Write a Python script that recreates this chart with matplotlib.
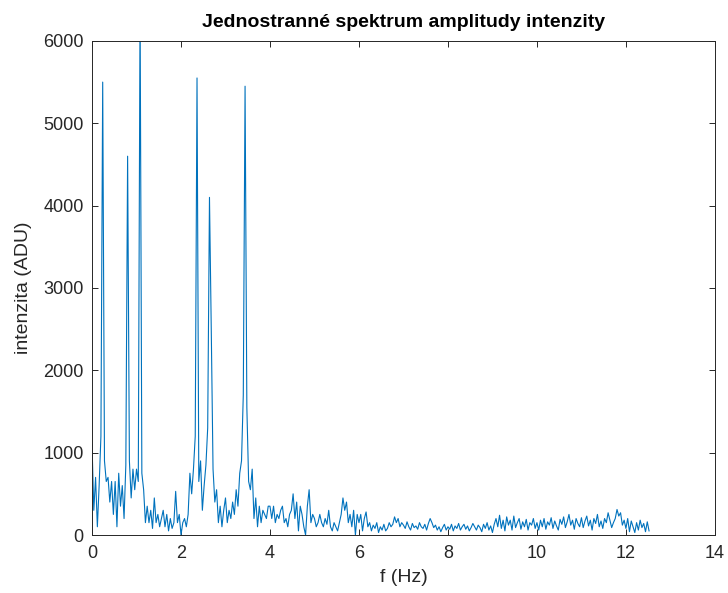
import matplotlib
matplotlib.use('Agg')
import matplotlib.pyplot as plt
import numpy as np

# frequency step of the spectrum (Hz)
df = 0.04

# amplitude values, one row per 1 Hz (25 samples)
amp_0 = [1100, 300, 700, 100, 600, 1200, 5500, 900, 650, 700, 400, 650, 250,
         650, 100, 750, 350, 600, 200, 850, 4600, 900, 450, 800, 550]
amp_1 = [800, 650, 6500, 750, 550, 150, 350, 150, 300, 80, 450, 150, 250,
         100, 200, 300, 100, 250, 50, 200, 80, 150, 530, 150, 250]
amp_2 = [0, 150, 200, 100, 250, 750, 500, 800, 1200, 5550, 650, 900, 300,
         600, 850, 1300, 4100, 2500, 800, 400, 550, 150, 350, 100, 300]
amp_3 = [450, 150, 300, 200, 400, 250, 550, 350, 750, 900, 1700, 5450, 1550,
         650, 550, 800, 200, 450, 100, 350, 150, 300, 250, 200, 350]
amp_4 = [350, 200, 350, 150, 250, 200, 300, 350, 150, 200, 100, 250, 300,
         500, 200, 400, 50, 350, 250, 100, 0, 350, 550, 150, 250]
amp_5 = [200, 100, 150, 250, 150, 100, 200, 130, 300, 100, 50, 150, 100,
         50, 150, 250, 450, 300, 400, 150, 250, 100, 300, 0, 250]
amp_6 = [150, 250, 50, 200, 280, 100, 150, 50, 120, 80, 150, 30, 100,
         60, 130, 50, 80, 150, 100, 130, 220, 150, 200, 100, 150]
amp_7 = [120, 80, 160, 100, 60, 140, 90, 110, 70, 150, 100, 80, 130,
         60, 140, 200, 150, 90, 120, 60, 100, 40, 90, 130, 60]
amp_8 = [100, 70, 130, 50, 110, 80, 140, 60, 100, 130, 70, 110, 50,
         90, 140, 100, 60, 120, 90, 40, 130, 80, 150, 60, 110]
amp_9 = [30, 130, 200, 100, 240, 80, 180, 50, 220, 120, 180, 60, 230,
         90, 150, 200, 70, 160, 100, 190, 60, 150, 120, 200, 80]
amp_10 = [150, 60, 180, 100, 200, 70, 160, 120, 210, 80, 170, 110, 60,
          190, 130, 220, 90, 160, 250, 120, 180, 70, 200, 140, 100]
amp_11 = [210, 90, 170, 230, 110, 180, 60, 200, 140, 250, 100, 170, 80,
          200, 150, 270, 180, 90, 150, 200, 310, 230, 270, 120, 180]
amp_12 = [80, 200, 40, 170, 100, 30, 150, 60, 180, 90, 140, 40, 160, 50]

amp = np.array(amp_0 + amp_1 + amp_2 + amp_3 + amp_4 + amp_5 + amp_6 +
               amp_7 + amp_8 + amp_9 + amp_10 + amp_11 + amp_12, dtype=float)
freq = np.arange(len(amp)) * df

x_ticks = [0, 2, 4, 6, 8, 10, 12, 14]
y_ticks = [0, 1000, 2000, 3000, 4000, 5000, 6000]

plt.rcParams['font.family'] = ['Liberation Sans', 'DejaVu Sans']
edge = '#262626'

fig = plt.figure(figsize=(7.28, 5.93), dpi=100)
ax = fig.add_axes([0.1264, 0.0978, 0.8556, 0.8332])

ax.plot(freq, amp, color='#0072BD', linewidth=0.8)

ax.set_xlim(0, 14)
ax.set_ylim(0, 6000)
ax.set_xticks(x_ticks)
ax.set_yticks(y_ticks)
ax.tick_params(direction='in', length=4, width=0.7, colors=edge,
               labelsize=13, top=True, right=True)
ax.tick_params(axis='x', pad=7)
ax.tick_params(axis='y', pad=6)
for sp in ax.spines.values():
    sp.set_color(edge)
    sp.set_linewidth(0.7)

ax.set_xlabel('f (Hz)', fontsize=14, color=edge, labelpad=5)
ax.set_ylabel('intenzita (ADU)', fontsize=14, color=edge, labelpad=8)
ax.set_title('Jednostranné spektrum amplitudy intenzity', fontsize=14,
             fontweight='bold', color='black', pad=10)

fig.savefig('out.png', dpi=100)
